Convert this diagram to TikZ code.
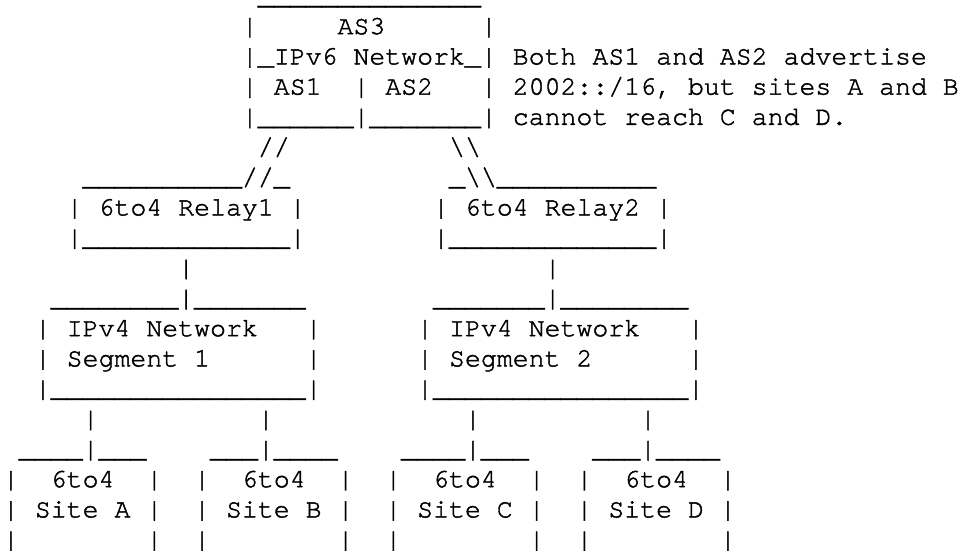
\documentclass[tikz,border=0pt]{standalone}
\usepackage{fontspec}
\newfontfamily\curfont[FakeBold=1.6]{TeX Gyre Cursor}
\ExplSyntaxOn
\cs_new:Npn \Rep #1#2 { \prg_replicate:nn {#1} {#2} }
\ExplSyntaxOff
\newcommand\bsl{\textbackslash}
\begin{document}
\begin{tikzpicture}[x=1pt,y=1pt,
  ascii/.style={anchor=base west, inner sep=0pt, outer sep=0pt,
    font=\curfont\fontsize{26.55}{30}\selectfont, text=black}]
\fill[white] (0,0) rectangle (966,-551);
\useasboundingbox (0,0) rectangle (966,-551);
\newcommand\putc[3]{\node[ascii] (n#2x#1) at ({3+#1*15.93},{-(4+#2*30.2)}) {#3};}
% AS3 box
\putc{16}{0}{\Rep{14}{\_}}
\putc{15}{1}{|}\putc{21}{1}{AS3}\putc{30}{1}{|}
\putc{15}{2}{|\_IPv6~Network\_|}\putc{32}{2}{Both~AS1~and~AS2~advertise}
\putc{15}{3}{|}\putc{17}{3}{AS1}\putc{22}{3}{|}\putc{24}{3}{AS2}\putc{30}{3}{|}
\putc{32}{3}{2002::/16,~but~sites~A~and~B}
\putc{15}{4}{|\Rep{6}{\_}|\Rep{7}{\_}|}\putc{32}{4}{cannot~reach~C~and~D.}
% links to relays
\putc{16}{5}{//}\putc{28}{5}{\bsl\bsl}
\putc{5}{6}{\Rep{10}{\_}//\_}\putc{28}{6}{\_\bsl\bsl\Rep{10}{\_}}
% relays
\putc{4}{7}{|}\putc{6}{7}{6to4~Relay1}\putc{18}{7}{|}
\putc{27}{7}{|}\putc{29}{7}{6to4~Relay2}\putc{41}{7}{|}
\putc{4}{8}{|\Rep{13}{\_}|}\putc{27}{8}{|\Rep{13}{\_}|}
\putc{11}{9}{|}\putc{34}{9}{|}
% IPv4 segments
\putc{3}{10}{\Rep{8}{\_}|\Rep{7}{\_}}\putc{27}{10}{\Rep{7}{\_}|\Rep{8}{\_}}
\putc{2}{11}{|}\putc{4}{11}{IPv4~Network}\putc{19}{11}{|}
\putc{26}{11}{|}\putc{28}{11}{IPv4~Network}\putc{43}{11}{|}
\putc{2}{12}{|}\putc{4}{12}{Segment~1}\putc{19}{12}{|}
\putc{26}{12}{|}\putc{28}{12}{Segment~2}\putc{43}{12}{|}
\putc{2}{13}{|\Rep{16}{\_}|}\putc{26}{13}{|\Rep{16}{\_}|}
\putc{5}{14}{|}\putc{16}{14}{|}\putc{29}{14}{|}\putc{40}{14}{|}
% sites
\putc{1}{15}{\Rep{4}{\_}|\Rep{3}{\_}}\putc{13}{15}{\Rep{3}{\_}|\Rep{4}{\_}}
\putc{25}{15}{\Rep{4}{\_}|\Rep{3}{\_}}\putc{37}{15}{\Rep{3}{\_}|\Rep{4}{\_}}
\putc{0}{16}{|}\putc{3}{16}{6to4}\putc{9}{16}{|}
\putc{12}{16}{|}\putc{15}{16}{6to4}\putc{21}{16}{|}
\putc{24}{16}{|}\putc{27}{16}{6to4}\putc{33}{16}{|}
\putc{36}{16}{|}\putc{39}{16}{6to4}\putc{45}{16}{|}
\putc{0}{17}{|}\putc{2}{17}{Site~A}\putc{9}{17}{|}
\putc{12}{17}{|}\putc{14}{17}{Site~B}\putc{21}{17}{|}
\putc{24}{17}{|}\putc{26}{17}{Site~C}\putc{33}{17}{|}
\putc{36}{17}{|}\putc{38}{17}{Site~D}\putc{45}{17}{|}
\putc{0}{18}{|}\putc{9}{18}{|}\putc{12}{18}{|}\putc{21}{18}{|}
\putc{24}{18}{|}\putc{33}{18}{|}\putc{36}{18}{|}\putc{45}{18}{|}
\end{tikzpicture}
\end{document}
